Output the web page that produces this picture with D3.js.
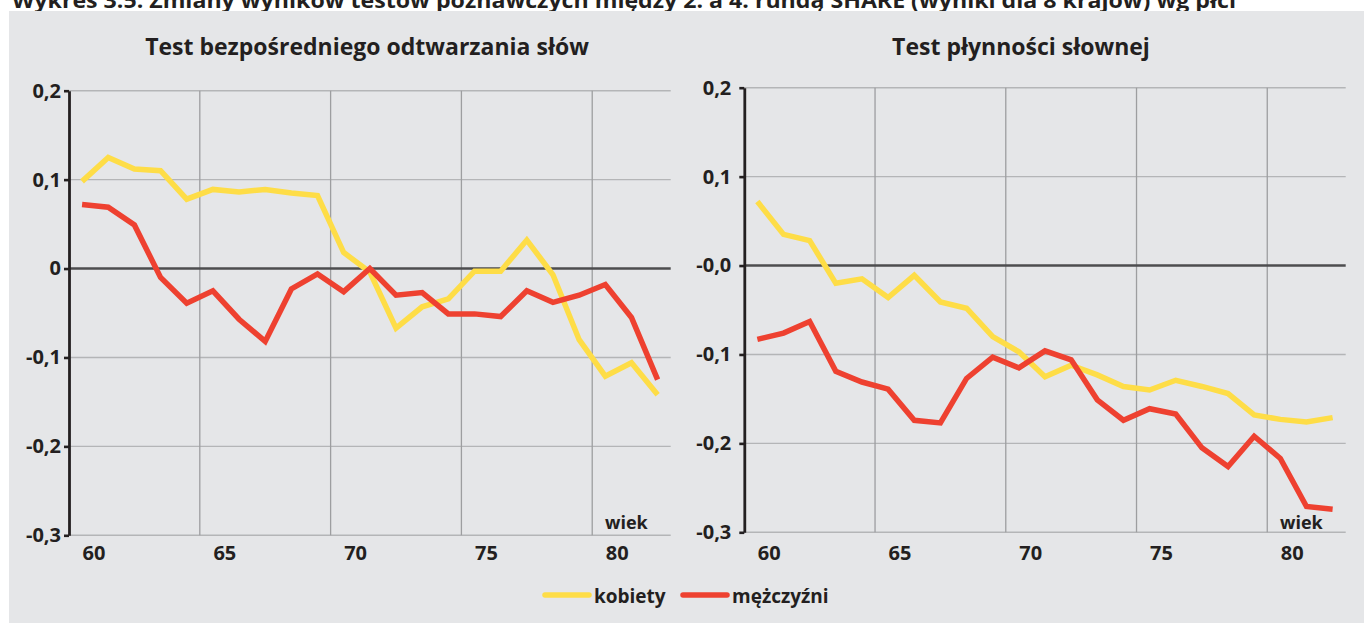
<!DOCTYPE html>
<html>
<head>
<meta charset="utf-8">
<script src="https://cdn.jsdelivr.net/npm/d3@7"></script>
<style>
  html, body { margin: 0; padding: 0; background: #fff; }
  svg { display: block; font-family: "Open Sans", "Noto Sans", sans-serif; }
  .tick text { fill: #231f20; font-weight: 700; }
</style>
</head>
<body>
<svg id="chart" width="1364" height="623"></svg>
<script>
const W = 1364, H = 623;

// ages on the x axis (category per year)
const ages = d3.range(60, 83);
const xTicks = [60, 65, 70, 75, 80];
const xGrid = [64.5, 69.5, 74.5, 79.5];

const yTicks = [0.2, 0.1, 0, -0.1, -0.2, -0.3];
const yLabelsLeft = ["0,2", "0,1", "0", "-0,1", "-0,2", "-0,3"];
const yLabelsRight = ["0,2", "0,1", "-0,0", "-0,1", "-0,2", "-0,3"];

// Test bezpośredniego odtwarzania słów
const recallWomen = [0.098, 0.125, 0.112, 0.110, 0.078, 0.089, 0.086, 0.089, 0.085, 0.082, 0.018, -0.004,
                     -0.067, -0.043, -0.034, -0.003, -0.003, 0.032, -0.007, -0.080, -0.121, -0.106, -0.142];
const recallMen   = [0.072, 0.069, 0.049, -0.010, -0.039, -0.025, -0.057, -0.082, -0.023, -0.006, -0.026, 0.000,
                     -0.030, -0.027, -0.051, -0.051, -0.054, -0.025, -0.038, -0.030, -0.018, -0.055, -0.125];

// Test płynności słownej
const fluencyWomen = [0.072, 0.035, 0.028, -0.020, -0.015, -0.036, -0.011, -0.041, -0.048, -0.080, -0.097, -0.125,
                      -0.112, -0.123, -0.136, -0.140, -0.129, -0.136, -0.144, -0.168, -0.173, -0.176, -0.171];
const fluencyMen   = [-0.083, -0.076, -0.063, -0.119, -0.131, -0.139, -0.174, -0.177, -0.127, -0.103, -0.115, -0.096,
                      -0.106, -0.151, -0.174, -0.161, -0.167, -0.205, -0.226, -0.192, -0.217, -0.271, -0.274];

const seriesNames = ["kobiety", "mężczyźni"];
const COLORS = { kobiety: "#fedd47", "mężczyźni": "#ee4130" };

const svg = d3.select("#chart");

// heading, cut off at the very top as in the source
svg.append("text")
  .attr("x", 12).attr("y", 8)
  .attr("fill", "#231f20").style("font-weight", 700).style("font-size", "22px")
  .attr("textLength", 1224).attr("lengthAdjust", "spacingAndGlyphs")
  .text("Wykres 3.5. Zmiany wyników testów poznawczych między 2. a 4. rundą SHARE (wyniki dla 8 krajów) wg płci");

svg.append("rect").attr("x", 9).attr("y", 11).attr("width", W - 9).attr("height", H - 11).attr("fill", "#e5e6e8");

const panels = [
  { title: "Test bezpośredniego odtwarzania słów", titleX: 367, x0: 69, x1: 670.7, top: 90.7, bottom: 535.3,
    labels: yLabelsLeft, labelPad: 3, women: recallWomen, men: recallMen },
  { title: "Test płynności słownej", titleX: 1021, x0: 744.3, x1: 1345.7, top: 87.7, bottom: 532.3,
    labels: yLabelsRight, labelPad: 8, women: fluencyWomen, men: fluencyMen }
];

panels.forEach(p => {
  const x = d3.scaleLinear().domain([59.5, 82.5]).range([p.x0, p.x1]);
  const y = d3.scaleLinear().domain([-0.3, 0.2]).range([p.bottom, p.top]);
  const g = svg.append("g");

  g.append("text").attr("x", p.titleX).attr("y", 55).attr("text-anchor", "middle")
    .attr("fill", "#231f20").style("font-weight", 700).style("font-size", "23px")
    .text(p.title);

  // grid
  g.selectAll("line.hgrid").data(yTicks.filter(d => d !== 0)).join("line").attr("class", "hgrid")
    .attr("x1", p.x0).attr("x2", p.x1).attr("y1", d => y(d)).attr("y2", d => y(d))
    .attr("stroke", "#b4b5b7").attr("stroke-width", 1.4);
  g.selectAll("line.vgrid").data(xGrid).join("line").attr("class", "vgrid")
    .attr("x1", d => x(d)).attr("x2", d => x(d)).attr("y1", p.top).attr("y2", p.bottom)
    .attr("stroke", "#9d9ea0").attr("stroke-width", 1.3);
  g.append("line").attr("x1", p.x0).attr("x2", p.x1).attr("y1", y(0)).attr("y2", y(0))
    .attr("stroke", "#4d4d4f").attr("stroke-width", 2.6);

  // y axis
  const yAxis = g.append("g").attr("transform", `translate(${p.x0},0)`)
    .call(d3.axisLeft(y).tickValues(yTicks).tickSize(5).tickSizeOuter(0).tickPadding(p.labelPad)
      .tickFormat((d, i) => p.labels[i]));
  yAxis.select(".domain").attr("stroke", "#231f20").attr("stroke-width", 2.8);
  yAxis.selectAll(".tick line").attr("stroke", "#231f20").attr("stroke-width", 2.6);
  yAxis.selectAll(".tick text").style("font-size", "20px").style("font-family", "'Open Sans', sans-serif");

  // x axis labels
  const xAxis = g.append("g").attr("transform", `translate(0,${p.bottom})`)
    .call(d3.axisBottom(x).tickValues(xTicks).tickSize(0).tickFormat(d3.format("d")));
  xAxis.select(".domain").remove();
  xAxis.selectAll(".tick text").attr("text-anchor", "start").attr("dy", null)
    .attr("y", 560 - p.bottom)
    .style("font-size", "20px").style("font-family", "'Open Sans', sans-serif");

  g.append("text").attr("x", p.x1 - 23).attr("y", 529).attr("text-anchor", "end")
    .attr("fill", "#231f20").style("font-weight", 700).style("font-size", "18px").text("wiek");

  const line = d3.line().x((d, i) => x(ages[i])).y(d => y(d));
  [[p.women, "kobiety"], [p.men, "mężczyźni"]].forEach(([vals, name]) => {
    g.append("path").datum(vals).attr("d", line)
      .attr("fill", "none").attr("stroke", COLORS[name]).attr("stroke-width", 5.5)
      .attr("stroke-linejoin", "miter").attr("stroke-miterlimit", 3);
  });
});

// legend
const legendX = [545, 683];
const legend = svg.append("g");
seriesNames.forEach((name, i) => {
  legend.append("line").attr("x1", legendX[i]).attr("x2", legendX[i] + 44).attr("y1", 595).attr("y2", 595)
    .attr("stroke", COLORS[name]).attr("stroke-width", 5.5).attr("stroke-linecap", "round");
  legend.append("text").attr("x", legendX[i] + 49).attr("y", 603)
    .attr("fill", "#231f20").style("font-weight", 700).style("font-size", "19px").text(name);
});
</script>
</body>
</html>
